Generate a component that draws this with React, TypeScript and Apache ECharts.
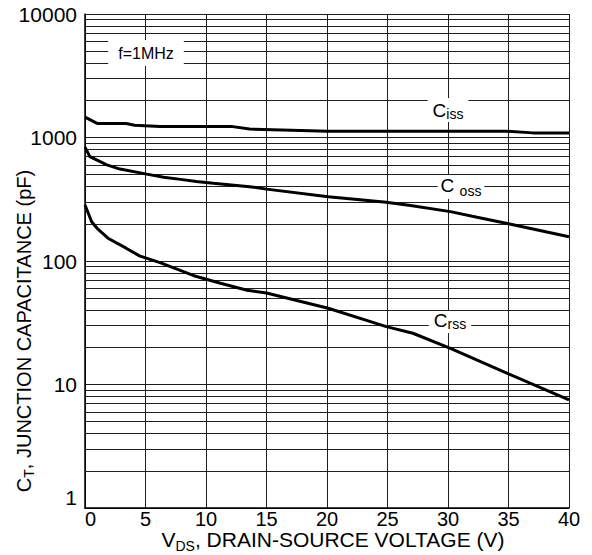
import React, { useEffect, useRef } from "react";
import * as echarts from "echarts";

// Drain-source voltage (V) sample points and capacitances (pF)
const cissV = [0, 1, 3.4, 4.1, 6.2, 12.2, 13.6, 20.1, 26, 34.8, 37, 40];
const cissC = [1460, 1300, 1300, 1255, 1225, 1225, 1170, 1125, 1125, 1125, 1090, 1090];

const cossV = [0, 0.4, 1, 1.8, 2.9, 5.1, 6.5, 7.9, 9.2, 10.6, 13.6, 15, 20.1, 24.9, 26.9, 30.2, 32.4, 35, 40];
const cossC = [835, 700, 655, 600, 555, 505, 476, 458, 441, 426, 400, 382, 332, 299, 281, 251, 226, 200, 157];

const crssV = [0, 0.55, 1, 1.9, 3.4, 4.5, 6.2, 9, 11.2, 13.4, 15, 20.1, 24.9, 27.1, 30.2, 35, 40];
const crssC = [284, 208, 184, 153, 127, 110, 97, 76, 66, 58, 55, 41.4, 29.4, 26, 19.6, 12.2, 7.5];

// Minor horizontal grid values of the log axis
const minorGrid = [
  2, 3, 4, 5, 6, 7, 8, 9,
  20, 30, 40, 50, 60, 70, 80, 90,
  200, 300, 400, 500, 600, 700, 800, 900,
  2000, 3000, 4000, 5000, 6000, 7000, 8000, 9000,
];

const zip = (xs: number[], ys: number[]) => xs.map((x, i) => [x, ys[i]]);

const FONT = "'Liberation Sans', Arial, sans-serif";
const NARROW = "'Liberation Sans Narrow', 'Liberation Sans', Arial, sans-serif";

type Piece = { t: string; sub?: boolean };

let measureCtx: CanvasRenderingContext2D | null = null;
function measure(text: string, size: number, family: string) {
  if (!measureCtx) measureCtx = document.createElement("canvas").getContext("2d");
  if (!measureCtx) return text.length * size * 0.55;
  measureCtx.font = `${size}px ${family}`;
  return measureCtx.measureText(text).width;
}

// Text with subscripts, laid out as a group centred at (cx, cy)
function subText(
  pieces: Piece[],
  o: {
    cx: number;
    cy: number;
    size: number;
    subSize: number;
    family: string;
    dy: number;
    rotation?: number;
    bg?: { padX: number; top: number; bottom: number };
  }
) {
  const widths = pieces.map((p) => measure(p.t, p.sub ? o.subSize : o.size, o.family));
  const total = widths.reduce((a, b) => a + b, 0);
  let x = -total / 2;
  const children: any[] = [];
  if (o.bg) {
    children.push({
      type: "rect",
      z: 100,
      shape: {
        x: -total / 2 - o.bg.padX,
        y: o.bg.top,
        width: total + 2 * o.bg.padX,
        height: o.bg.bottom - o.bg.top,
      },
      style: { fill: "#fff" },
    });
  }
  pieces.forEach((p, i) => {
    children.push({
      type: "text",
      z: 101,
      x,
      y: p.sub ? o.dy : 0,
      style: {
        text: p.t,
        fontFamily: o.family,
        fontSize: p.sub ? o.subSize : o.size,
        fill: "#000",
        align: "left",
        verticalAlign: "middle",
      },
    });
    x += widths[i];
  });
  return { type: "group", x: o.cx, y: o.cy, rotation: o.rotation || 0, children };
}

export default function App() {
  const ref = useRef<HTMLDivElement>(null);
  useEffect(() => {
    const chart = echarts.init(ref.current!, null, { renderer: "svg" });
    const gridLine = { color: "#1e1e1e", width: 1, type: "solid" as const };
    const curve = (name: string, data: number[][]) => ({
      name,
      type: "line",
      data,
      showSymbol: false,
      symbol: "none",
      silent: true,
      lineStyle: { color: "#000", width: 3 },
      z: 5,
    });
    chart.setOption({
      animation: false,
      backgroundColor: "#fff",
      grid: { left: 85, right: 23, top: 14, bottom: 47, show: false },
      xAxis: {
        type: "value",
        min: 0,
        max: 40,
        interval: 5,
        axisLine: { show: true, lineStyle: { color: "#000", width: 1.5 } },
        axisTick: { show: false },
        splitLine: { show: true, lineStyle: gridLine },
        axisLabel: {
          fontFamily: NARROW,
          fontSize: 20,
          lineHeight: 15,
          color: "#000",
          margin: 3,
          alignMinLabel: "left",
        },
      },
      yAxis: {
        type: "log",
        logBase: 10,
        min: 1,
        max: 10000,
        axisLine: { show: true, lineStyle: { color: "#000", width: 1.5 } },
        axisTick: { show: false },
        splitLine: { show: true, lineStyle: gridLine },
        minorSplitLine: { show: false },
        axisLabel: {
          fontFamily: NARROW,
          fontSize: 21,
          color: "#000",
          margin: 8,
          verticalAlignMinLabel: "bottom",
          formatter: (v: number) => String(Math.round(v)),
        },
      },
      series: [
        {
          type: "line",
          data: [],
          silent: true,
          z: 1,
          markLine: {
            silent: true,
            symbol: ["none", "none"],
            label: { show: false },
            emphasis: { disabled: true },
            lineStyle: { color: "#1e1e1e", width: 1, type: "solid" },
            data: minorGrid.map((v) => ({ yAxis: v })),
          },
        },
        curve("Ciss", zip(cissV, cissC)),
        curve("Coss", zip(cossV, cossC)),
        curve("Crss", zip(crssV, crssC)),
      ],
      graphic: [
        {
          type: "text",
          x: 146,
          y: 53,
          z: 100,
          style: {
            text: "f=1MHz",
            fontFamily: FONT,
            fontSize: 16,
            fill: "#000",
            align: "center",
            verticalAlign: "middle",
            backgroundColor: "#fff",
            padding: [5, 10],
          },
        },
        subText([{ t: "C" }, { t: "iss", sub: true }], {
          cx: 448, cy: 110, size: 19, subSize: 14, family: NARROW, dy: 4,
          bg: { padX: 5, top: -12, bottom: 12 },
        }),
        subText([{ t: "C " }, { t: "oss", sub: true }], {
          cx: 461, cy: 185, size: 19, subSize: 14, family: NARROW, dy: 6,
          bg: { padX: 3, top: -10, bottom: 14 },
        }),
        subText([{ t: "C" }, { t: "rss", sub: true }], {
          cx: 450, cy: 320, size: 19, subSize: 14, family: NARROW, dy: 4,
          bg: { padX: 5, top: -9, bottom: 13 },
        }),
        subText([{ t: "V" }, { t: "DS", sub: true }, { t: ", DRAIN-SOURCE VOLTAGE (V)" }], {
          cx: 333, cy: 539, size: 21, subSize: 14, family: FONT, dy: 7,
        }),
        subText([{ t: "C" }, { t: "T", sub: true }, { t: ", JUNCTION CAPACITANCE (pF)" }], {
          cx: 24, cy: 331, size: 20, subSize: 14, family: NARROW, dy: 5,
          rotation: Math.PI / 2,
        }),
      ],
    });
    return () => chart.dispose();
  }, []);
  return (
    <div
      ref={ref}
      style={{ position: "fixed", left: 0, top: 0, width: 592, height: 555, background: "#fff" }}
    />
  );
}
